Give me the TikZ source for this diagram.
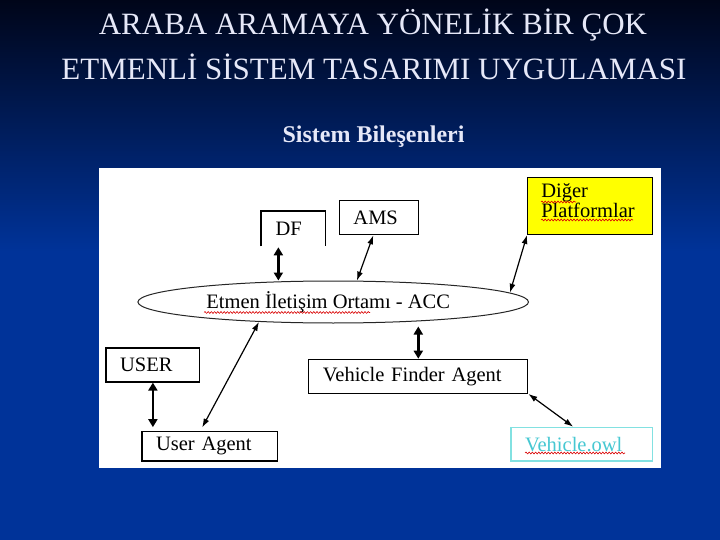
\documentclass[tikz,border=0pt]{standalone}
\usepackage{fontspec}
\setmainfont{Liberation Serif}
\usetikzlibrary{arrows.meta,calc,shapes.geometric,decorations.pathmorphing}
\definecolor{bgtop}{RGB}{0,5,25}
\definecolor{bgbot}{RGB}{0,51,153}
\definecolor{titlecol}{RGB}{230,232,248}
\definecolor{owlcol}{RGB}{70,200,210}
\definecolor{owlframe}{RGB}{130,225,225}
\definecolor{yellowbox}{RGB}{255,255,0}
\tikzset{
  title/.style={text=titlecol, font=\fontsize{31}{36}\selectfont, inner sep=0pt},
  subtitle/.style={text=titlecol, font=\bfseries\fontsize{24}{28}\selectfont, inner sep=0pt},
  box/.style={draw, line width=1.2pt, fill=white, align=left, inner xsep=14pt, inner ysep=0pt,
    font=\fontsize{20.5}{18}\selectfont},
  accell/.style={ellipse, draw=black!85, line width=1pt, fill=white, minimum width=390.6pt,
    minimum height=42pt, inner sep=0pt, font=\fontsize{20.5}{24}\selectfont},
  both/.style={{Latex[length=9pt,width=6pt]}-{Latex[length=9pt,width=6pt]}, line width=1.2pt},
  bothheavy/.style={{Triangle[length=8pt,width=9pt]}-{Triangle[length=8pt,width=9pt]}, line width=2.6pt},
  squiggle/.style={red!85!black, line width=0.6pt, decorate,
    decoration={snake, amplitude=0.9pt, segment length=3.2pt}}
}
\begin{document}
\begin{tikzpicture}[x=1pt,y=-1pt]
  \fill[bgbot] (0,250) rectangle (720,540);
  \shade[top color=bgtop, bottom color=bgbot] (0,0) rectangle (720,251);
  \useasboundingbox (0,0) rectangle (720,540);
  \draw
    (373,25) node[title] (title1) {ARABA ARAMAYA YÖNELİK BİR ÇOK}
    (374,67) node[title] (title2) {ETMENLİ SİSTEM TASARIMI UYGULAMASI}
    (373.5,137) node[subtitle] (subtitle) {Sistem Bileşenleri};
  \fill[white] (99.4,167.7) rectangle (660.5,468.3);
  \draw
    (293.2,228.7) node[box, draw=none, text width=35.3pt, minimum height=34pt] (df) {DF}
    (378.9,217.5) node[box, text width=50.9pt, minimum height=34.4pt] (ams) {AMS}
    (590.1,206) node[box, fill=yellowbox, text width=96.8pt, minimum height=56.6pt] (diger) {}
    (333.2,302) node[accell] (acc) {Etmen İletişim Ortamı - ACC\hspace*{10pt}}
    (152.9,365) node[box, text width=65.7pt, minimum height=34pt] (user) {USER}
    (209.8,446.4) node[box, text width=107.5pt, minimum height=29.3pt] (ua) {User Agent}
    (418.3,376.3) node[box, text width=190.9pt, minimum height=34pt] (vfa) {Vehicle Finder Agent}
    (581.8,444.2) node[box, draw=owlframe, text=owlcol, text width=113.5pt, minimum height=33.7pt] (owl) {Vehicle.owl};
  \node[anchor=north west, align=left, inner sep=0pt, font=\fontsize{20.5}{18}\selectfont]
    (digerlabel) at ($(diger.north west)+(14,6)$) {Diğer\\Platformlar};
  \draw[line width=1.2pt] (df.south west) -- (df.north west) -- (df.north east) -- (df.south east);
  \coordinate (dfend) at ($(df.south west)!0.27!(df.south east)$);
  \begin{scope}[line cap=butt]
    \draw[bothheavy, shorten <=1pt] (dfend) -- (dfend |- acc.north);
    \draw[both] ($(ams.south west)!0.43!(ams.south east)$) -- (acc.42.5);
    \draw[both] (diger.south west) -- (acc.3.9);
    \draw[both, shorten >=4pt] (acc.195.4) -- ($(ua.north west)!0.43!(ua.north east)$);
    \draw[bothheavy, shorten >=4pt] (user.south) -- (user.south |- ua.north);
    \draw[bothheavy, shorten <=3pt] (vfa.north |- acc.south) -- (vfa.north);
    \draw[both] (vfa.south east) -- ($(owl.north west)!0.44!(owl.north east)$);
  \end{scope}
  \draw[squiggle] (204,312.5) -- (370,312.5);
  \draw[squiggle] (541,202) -- (576,202);
  \draw[squiggle] (541,220) -- (633,220);
  \draw[squiggle] (525,453) -- (625,453);
\end{tikzpicture}
\end{document}
